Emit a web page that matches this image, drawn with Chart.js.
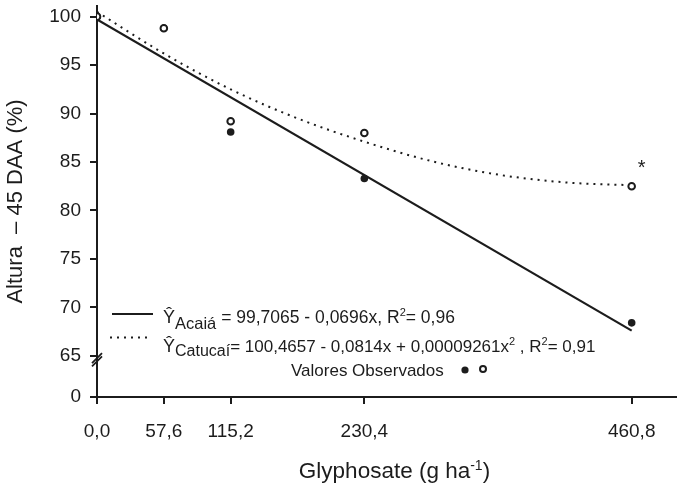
<!DOCTYPE html>
<html><head><meta charset="utf-8">
<script src="https://cdn.jsdelivr.net/npm/chart.js@4.4.0/dist/chart.umd.min.js"></script>
<style>html,body{margin:0;padding:0;background:#fff}#wrap{width:682px;height:491px}</style>
</head><body><div id="wrap"><canvas id="c" width="682" height="491"></canvas></div>
<script>
// ---- data ----
const doses = [0, 57.6, 115.2, 230.4, 460.8];
const doseLabels = ['0,0', '57,6', '115,2', '230,4', '460,8'];
const acaiaObs = [100, 98.8, 88.1, 83.3, 68.4];
const catucaiObs = [100, 98.8, 89.2, 88.0, 82.5];
const acaiaFitX = [0, 460.8];
const acaiaFitY = [99.7, 67.6];
const catucaiFitX = [0, 57.6, 115.2, 172.8, 230.4, 288, 345.6, 403.2, 460.8];
const catucaiFitY = [100.5, 96.2, 92.5, 89.5, 87.1, 85.1, 83.7, 82.9, 82.6];
const yTickValues = [0, 65, 70, 75, 80, 85, 90, 95, 100];
const yTickLabels = ['0', '65', '70', '75', '80', '85', '90', '95', '100'];
const starDose = 460.8, starValue = 82.5;

// axis position where the broken "0" is shown
const BREAK_AXIS = 60.8;
const axisPos = v => (v === 0 ? BREAK_AXIS : v);

const FONT = "'Liberation Sans', Arial, Helvetica, sans-serif";
const INK = '#1c1c1c';

const pts = (xs, ys) => xs.map((x, i) => ({ x, y: ys[i] }));

const overlay = {
  id: 'overlay',
  afterDraw(chart) {
    const ctx = chart.ctx, ca = chart.chartArea;
    const xs = chart.scales.x, ys = chart.scales.y;
    ctx.save();
    ctx.fillStyle = INK; ctx.strokeStyle = INK;
    // axis break marks
    const bx = ca.left, by = ys.getPixelForValue(64.6);
    ctx.lineWidth = 1.8;
    for (const off of [-1.6, 1.6]) {
      ctx.beginPath();
      ctx.moveTo(bx - 5, by + 5 + off);
      ctx.lineTo(bx + 5, by - 5 + off);
      ctx.stroke();
    }
    // asterisk
    ctx.font = '20px ' + FONT; ctx.textAlign = 'center'; ctx.textBaseline = 'middle';
    ctx.fillText('*', xs.getPixelForValue(starDose) + 10, ys.getPixelForValue(starValue) - 18);
    // legend
    ctx.textAlign = 'left'; ctx.textBaseline = 'alphabetic';
    const L = ca.left;
    ctx.lineWidth = 2.2; ctx.setLineDash([]);
    ctx.beginPath(); ctx.moveTo(L + 15, 314); ctx.lineTo(L + 56, 314); ctx.stroke();
    ctx.lineWidth = 2; ctx.setLineDash([2, 5]);
    ctx.beginPath(); ctx.moveTo(L + 13, 337.5); ctx.lineTo(L + 55, 337.5); ctx.stroke();
    ctx.setLineDash([]);
    const runs = (x, y, list) => {
      for (const [t, size, dy] of list) {
        ctx.font = size + 'px ' + FONT;
        ctx.fillText(t, x, y + dy);
        x += ctx.measureText(t).width;
      }
      return x;
    };
    runs(L + 66, 323, [['Ŷ', 18, 0], ['Acaiá', 16.5, 5.5], [' = 99,7065 - 0,0696x, R', 17.5, 0], ['2', 11, -7], ['= 0,96', 17.5, 0]]);
    runs(L + 66, 351.5, [['Ŷ', 18, 0], ['Catucaí', 16, 4], ['= 100,4657 - 0,0814x + 0,00009261x', 17, 0], ['2', 11, -7], [' , R', 17, 0], ['2', 11, -7], ['= 0,91', 17, 0]]);
    ctx.font = '17px ' + FONT;
    ctx.fillText('Valores Observados', L + 194, 376);
    ctx.beginPath(); ctx.arc(L + 368, 370, 3.6, 0, Math.PI * 2); ctx.fill();
    ctx.lineWidth = 2; ctx.fillStyle = '#fff';
    ctx.beginPath(); ctx.arc(L + 386, 369, 3, 0, Math.PI * 2); ctx.fill(); ctx.stroke();
    ctx.fillStyle = INK;
    // x title with superscript
    const parts = [['Glyphosate (g ha', 22.5, 0], ['-1', 14, -8.5], [')', 22.5, 0]];
    let w = 0;
    for (const [t, s] of parts) { ctx.font = s + 'px ' + FONT; w += ctx.measureText(t).width; }
    runs(394.5 - w / 2, 478, parts);
    ctx.restore();
  }
};

new Chart(document.getElementById('c'), {
  type: 'scatter',
  data: {
    datasets: [
      { label: 'Catucaí', data: pts(doses, catucaiObs), pointRadius: 3.3, pointBorderWidth: 2,
        pointBackgroundColor: '#fff', pointBorderColor: INK, order: 0 },
      { label: 'Acaiá', data: pts(doses, acaiaObs), pointRadius: 3.8, pointBorderWidth: 0,
        pointBackgroundColor: INK, pointBorderColor: INK, order: 1 },
      { label: 'Ŷ Acaiá', data: pts(acaiaFitX, acaiaFitY), showLine: true, pointRadius: 0,
        borderColor: INK, borderWidth: 2.2, order: 2 },
      { label: 'Ŷ Catucaí', data: pts(catucaiFitX, catucaiFitY), showLine: true, pointRadius: 0,
        borderColor: INK, borderWidth: 2, borderDash: [2, 5], cubicInterpolationMode: 'monotone', order: 3 }
    ]
  },
  options: {
    responsive: false, animation: false,
    layout: { padding: { top: 5, right: 0, left: 0, bottom: 0 } },
    plugins: { legend: { display: false }, tooltip: { enabled: false } },
    scales: {
      x: {
        type: 'linear', min: 0, max: 499,
        afterBuildTicks: s => { s.ticks = doses.map(v => ({ value: v })); },
        afterFit: s => { s.height = 94; s.paddingRight = 0; s.paddingLeft = 0; },
        ticks: { callback: (v, i) => doseLabels[i], font: { family: FONT, size: 19 }, color: INK,
                 padding: 16, maxRotation: 0, autoSkip: false },
        grid: { display: true, drawOnChartArea: false, drawTicks: true, tickLength: 7, color: INK, lineWidth: 2 },
        border: { display: true, color: INK, width: 2 }
      },
      y: {
        type: 'linear', min: 60.75, max: 101.1,
        afterBuildTicks: s => { s.ticks = yTickValues.map(v => ({ value: axisPos(v) })); },
        afterFit: s => { s.width = 97; s.paddingTop = 0; s.paddingBottom = 0; },
        ticks: { callback: (v, i) => yTickLabels[i], font: { family: FONT, size: 19 }, color: INK,
                 padding: 9, autoSkip: false },
        grid: { display: true, drawOnChartArea: false, drawTicks: true, tickLength: 7, color: INK, lineWidth: 2 },
        border: { display: true, color: INK, width: 2 },
        title: { display: true, text: 'Altura  – 45 DAA (%)', font: { family: FONT, size: 22 }, color: INK,
                 padding: { top: 3, bottom: 0 } }
      }
    }
  },
  plugins: [overlay]
});
</script>
</body></html>
